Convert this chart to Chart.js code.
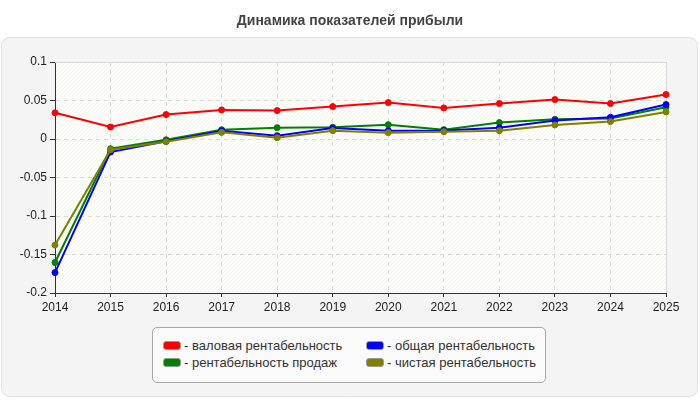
<!DOCTYPE html>
<html><head><meta charset="utf-8">
<script src="https://cdn.jsdelivr.net/npm/chart.js@4/dist/chart.umd.min.js"></script>
<style>
html,body{margin:0;padding:0;background:#fff;}
#wrap{position:relative;width:700px;height:400px;}
#title{position:absolute;left:0;top:12px;width:700px;text-align:center;font:bold 14px "Liberation Sans",Arial,sans-serif;color:#444;line-height:17px;}
#legend{position:absolute;left:152px;top:327px;width:394px;height:56px;border:1px solid #a8a8a8;border-radius:5px;background:#fafafa;box-sizing:border-box;font:13px "Liberation Sans",Arial,sans-serif;color:#333;}
.item{position:absolute;display:flex;align-items:center;height:16px;white-space:nowrap;}
.sw{width:16px;height:7px;border:1px solid #999;border-radius:3px;margin-right:3px;}
</style>
</head><body>
<div id="wrap">
<canvas id="c" width="700" height="400"></canvas>
<div id="title">Динамика показателей прибыли</div>
<div id="legend"></div>
</div>
<script>
const years = ['2014','2015','2016','2017','2018','2019','2020','2021','2022','2023','2024','2025'];
const grossMargin = [0.034, 0.0156, 0.0317, 0.0378, 0.0369, 0.0421, 0.0473, 0.0404, 0.046, 0.0512, 0.046, 0.0578];
const totalMargin = [-0.1735, -0.017, -0.003, 0.0108, 0.0043, 0.0143, 0.0108, 0.0112, 0.0147, 0.0239, 0.0282, 0.0447];
const salesMargin = [-0.1604, -0.0126, -0.001, 0.0121, 0.0147, 0.0151, 0.0186, 0.0121, 0.0213, 0.0256, 0.0265, 0.0412];
const netMargin = [-0.1378, -0.014, -0.0035, 0.0086, 0.0017, 0.0108, 0.0082, 0.0095, 0.0108, 0.0183, 0.0226, 0.0352];
const yTicks = [0.1, 0.05, 0, -0.05, -0.1, -0.15, -0.2];
const yTickLabels = ['0.1', '0.05', '0', '-0.05', '-0.1', '-0.15', '-0.2'];
const seriesNames = ['- валовая рентабельность', '- общая рентабельность', '- рентабельность продаж', '- чистая рентабельность'];
const seriesColors = ['#ff0000', '#0000ff', '#008000', '#808000'];

const FONT = '"Liberation Sans", Arial, sans-serif';
Chart.defaults.font.family = FONT;
Chart.defaults.font.size = 12;
Chart.defaults.color = '#222';

function ds(label, data, color, order) {
  return {label, data, borderColor: color, backgroundColor: color, borderWidth: 2,
    pointRadius: 3, pointHoverRadius: 3, pointBackgroundColor: color, pointBorderColor: color,
    pointBorderWidth: 1, tension: 0, fill: false, order};
}

const bgPlugin = {
  id: 'bg',
  beforeDraw(chart) {
    const ctx = chart.ctx, a = chart.chartArea;
    ctx.save();
    ctx.fillStyle = '#fff';
    ctx.fillRect(0, 0, chart.width, chart.height);
    ctx.beginPath();
    ctx.roundRect(1.5, 37.5, 696, 359, 8);
    ctx.fillStyle = '#f4f4f4';
    ctx.fill();
    ctx.strokeStyle = '#e2e2e2';
    ctx.lineWidth = 1;
    ctx.stroke();
    ctx.fillStyle = '#fdfdf9';
    ctx.fillRect(a.left, a.top, a.right - a.left, a.bottom - a.top);
    ctx.beginPath();
    ctx.rect(a.left, a.top, a.right - a.left, a.bottom - a.top);
    ctx.clip();
    ctx.strokeStyle = 'rgba(0,0,0,0.035)';
    ctx.lineWidth = 1;
    ctx.beginPath();
    for (let k = -400; k < 700; k += 4) {
      ctx.moveTo(a.left + k, a.bottom);
      ctx.lineTo(a.left + k + 300, a.bottom - 300);
    }
    ctx.stroke();
    ctx.restore();
  },
  beforeDatasetsDraw(chart) {
    const ctx = chart.ctx, a = chart.chartArea;
    ctx.save();
    ctx.strokeStyle = '#d8d8d8';
    ctx.lineWidth = 1;
    ctx.beginPath();
    ctx.moveTo(a.left, Math.round(a.top) + 0.5);
    ctx.lineTo(a.right, Math.round(a.top) + 0.5);
    ctx.moveTo(Math.round(a.right) + 0.5, a.top);
    ctx.lineTo(Math.round(a.right) + 0.5, a.bottom);
    ctx.stroke();
    ctx.restore();
  }
};

const chart = new Chart(document.getElementById('c'), {
  type: 'line',
  data: {
    labels: years,
    datasets: [
      ds(seriesNames[0], grossMargin, seriesColors[0], 3),
      ds(seriesNames[1], totalMargin, seriesColors[1], 1),
      ds(seriesNames[2], salesMargin, seriesColors[2], 2),
      ds(seriesNames[3], netMargin, seriesColors[3], 0)
    ]
  },
  options: {
    responsive: false,
    animation: false,
    layout: {padding: {left: 10, right: 34, top: 62, bottom: 87}},
    plugins: {legend: {display: false}, title: {display: false}, tooltip: {enabled: false}},
    scales: {
      x: {
        offset: false,
        grid: {color: '#dcdcdc', tickLength: 4, tickColor: '#333', tickBorderDash: []},
        border: {color: '#333', dash: [4, 4]},
        ticks: {padding: 3, color: '#222', maxRotation: 0, autoSkip: false, font: {size: 12}},
        afterFit(s) { s.height = 20; }
      },
      y: {
        min: -0.2, max: 0.1,
        afterBuildTicks(s) { s.ticks = yTicks.map(v => ({value: v})); },
        grid: {color: '#dcdcdc', tickLength: 5, tickColor: '#333', tickBorderDash: []},
        border: {color: '#333', dash: [4, 4]},
        ticks: {padding: 3, color: '#222', font: {size: 12},
          callback(v) { const i = yTicks.findIndex(t => Math.abs(t - v) < 1e-9); return i >= 0 ? yTickLabels[i] : ''; }},
        afterFit(s) { s.width = 45; }
      }
    }
  },
  plugins: [bgPlugin]
});

const leg = document.getElementById('legend');
const pos = [[10, 9], [213, 9], [10, 26], [213, 26]];
chart.data.datasets.forEach((d, k) => {
  const el = document.createElement('div');
  el.className = 'item';
  el.style.left = pos[k][0] + 'px';
  el.style.top = pos[k][1] + 'px';
  const sw = document.createElement('span');
  sw.className = 'sw';
  sw.style.background = d.borderColor;
  el.appendChild(sw);
  el.appendChild(document.createTextNode(d.label));
  leg.appendChild(el);
});
</script>
</body></html>
